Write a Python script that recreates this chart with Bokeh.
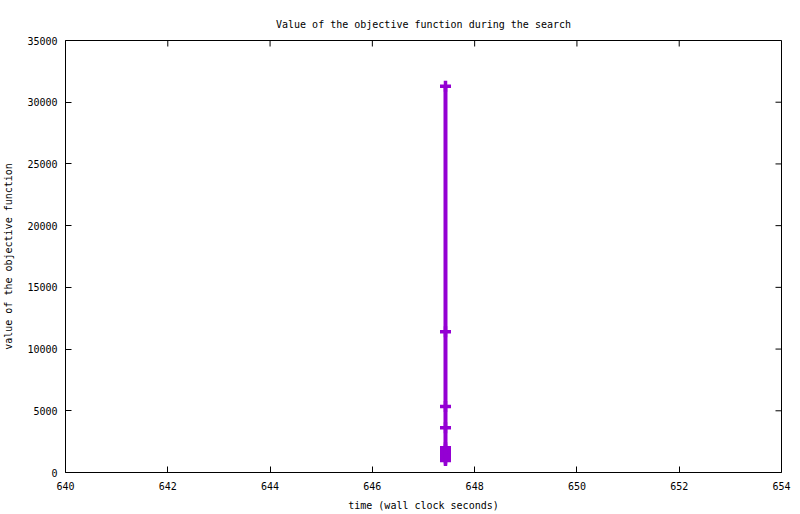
import math
from bokeh.plotting import figure
from bokeh.models import Range1d, FixedTicker
from bokeh.embed import file_html
from bokeh.resources import INLINE

# data
time_s = [647.43, 647.43, 647.43, 647.43, 647.43, 647.43, 647.43, 647.43, 647.43, 647.43, 647.43, 647.43]
objective = [31300, 11400, 5350, 3620, 2000, 1850, 1700, 1550, 1400, 1250, 1100, 980]
x_ticks = [640, 642, 644, 646, 648, 650, 652, 654]
y_ticks = [0, 5000, 10000, 15000, 20000, 25000, 30000, 35000]

FONT = "DejaVu Sans Mono"
COLOR = "#9400D3"
X_MIN, X_MAX = 640, 654
Y_MIN, Y_MAX = 0, 35000

p = figure(frame_width=716, frame_height=432, output_backend="svg", toolbar_location=None,
           x_range=Range1d(X_MIN, X_MAX), y_range=Range1d(Y_MIN, Y_MAX),
           title="Value of the objective function during the search",
           min_border_left=57, min_border_right=11, min_border_top=40, min_border_bottom=30)

p.title.align = "center"
p.title.text_font = FONT
p.title.text_font_size = "10px"
p.title.text_font_style = "normal"
p.title.text_color = "black"
p.title.standoff = 21

p.grid.visible = False
p.outline_line_color = "black"
p.outline_line_width = 1
p.outline_line_alpha = 1

for ax in (p.xaxis[0], p.yaxis[0]):
    ax.axis_line_color = None
    ax.major_tick_in = 6
    ax.major_tick_out = 0
    ax.minor_tick_line_color = None
    ax.major_tick_line_color = "black"
    ax.major_label_text_font = FONT
    ax.major_label_text_font_size = "10px"
    ax.major_label_text_color = "black"
    ax.axis_label_text_font = FONT
    ax.axis_label_text_font_size = "10px"
    ax.axis_label_text_font_style = "normal"
    ax.axis_label_text_color = "black"

p.xaxis[0].ticker = FixedTicker(ticks=x_ticks)
p.yaxis[0].ticker = FixedTicker(ticks=y_ticks)
p.xaxis[0].axis_label = "time (wall clock seconds)"
p.yaxis[0].axis_label = "value of the objective function"
p.xaxis[0].major_label_standoff = 9
p.yaxis[0].major_label_standoff = 8
p.xaxis[0].axis_label_standoff = 7
p.yaxis[0].axis_label_standoff = 10

# mirrored inward ticks on top and right edges
p.ray(x=x_ticks, y=[Y_MAX] * len(x_ticks), length=6, length_units="screen",
      angle=-math.pi / 2, line_color="black", line_width=1)
p.ray(x=[X_MAX] * len(y_ticks), y=y_ticks, length=6, length_units="screen",
      angle=math.pi, line_color="black", line_width=1)

p.line(time_s, objective, line_color=COLOR, line_width=4)
p.scatter(time_s, objective, marker="cross", size=11, line_color=COLOR, line_width=3.5)

open("out.html", "w").write(file_html(p, INLINE))
